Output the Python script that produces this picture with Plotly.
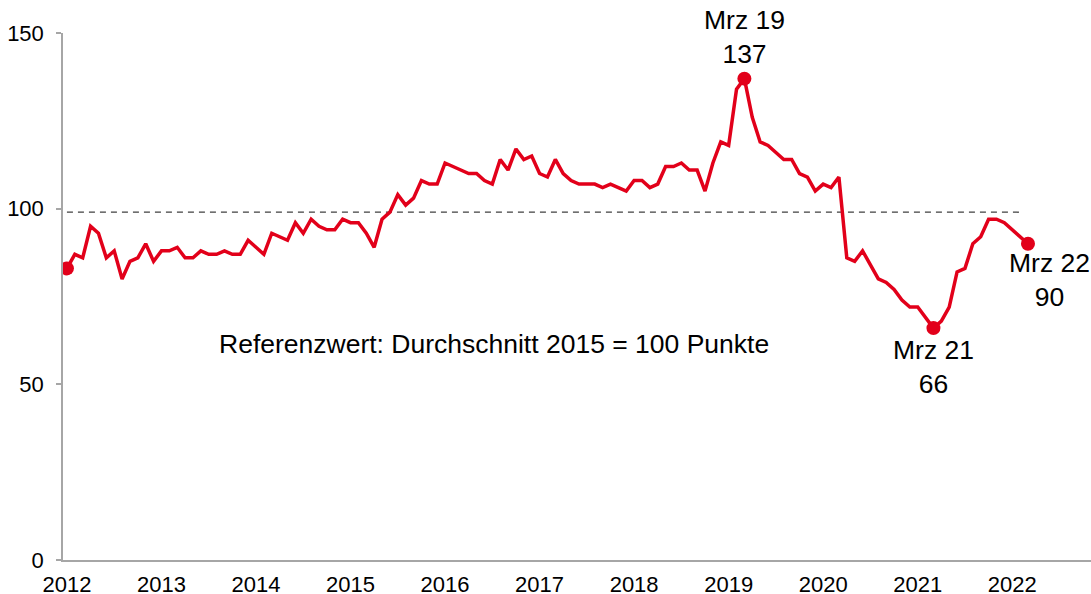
import plotly.graph_objects as go

# Monthly index values, Jan 2012 .. Mar 2022
values_2012 = [83, 87, 86, 95, 93, 86, 88, 80, 85, 86, 90, 85]
values_2013 = [88, 88, 89, 86, 86, 88, 87, 87, 88, 87, 87, 91]
values_2014 = [89, 87, 93, 92, 91, 96, 93, 97, 95, 94, 94, 97]
values_2015 = [96, 96, 93, 89, 97, 99, 104, 101, 103, 108, 107, 107]
values_2016 = [113, 112, 111, 110, 110, 108, 107, 114, 111, 117, 114, 115]
values_2017 = [110, 109, 114, 110, 108, 107, 107, 107, 106, 107, 106, 105]
values_2018 = [108, 108, 106, 107, 112, 112, 113, 111, 111, 105, 113, 119]
values_2019 = [118, 134, 137, 126, 119, 118, 116, 114, 114, 110, 109, 105]
values_2020 = [107, 106, 109, 86, 85, 88, 84, 80, 79, 77, 74, 72]
values_2021 = [72, 69, 66, 68, 72, 82, 83, 90, 92, 97, 97, 96]
values_2022 = [94, 92, 90]

values = (values_2012 + values_2013 + values_2014 + values_2015 + values_2016 +
          values_2017 + values_2018 + values_2019 + values_2020 + values_2021 + values_2022)
months = list(range(len(values)))

year_labels = ["2012", "2013", "2014", "2015", "2016", "2017", "2018", "2019", "2020", "2021", "2022"]
year_ticks = [12 * k for k in range(len(year_labels))]

reference_value = 99
reference_x = [0, 121]

# highlighted points
highlight_idx = [0, 86, 110, 122]
peak_idx, trough_idx, last_idx = 86, 110, 122
peak_label = "Mrz 19"
trough_label = "Mrz 21"
last_label = "Mrz 22"
note_text = "Referenzwert: Durchschnitt 2015 = 100 Punkte"

RED = "#E2001A"
FONT = "Liberation Sans, Arial, sans-serif"

fig = go.Figure()

fig.add_trace(go.Scatter(
    x=reference_x, y=[reference_value] * len(reference_x), mode="lines",
    line=dict(color="#404040", width=1.3, dash="6px,5px"),
    hoverinfo="skip", showlegend=False))

fig.add_trace(go.Scatter(
    x=months, y=values, mode="lines",
    line=dict(color=RED, width=3.5),
    showlegend=False))

fig.add_trace(go.Scatter(
    x=[months[i] for i in highlight_idx], y=[values[i] for i in highlight_idx],
    mode="markers", marker=dict(color=RED, size=14),
    showlegend=False))

ann_font = dict(family=FONT, size=26.5, color="#000000")
fig.add_annotation(x=peak_idx, y=values[peak_idx], xref="x", yref="y",
                   text=f"{peak_label}<br>{values[peak_idx]}", showarrow=False,
                   yanchor="bottom", yshift=8, font=ann_font)
fig.add_annotation(x=trough_idx, y=values[trough_idx], xref="x", yref="y",
                   text=f"{trough_label}<br>{values[trough_idx]}", showarrow=False,
                   yanchor="top", yshift=-5, font=ann_font)
fig.add_annotation(x=last_idx, y=values[last_idx], xref="x", yref="y",
                   text=f"{last_label}<br>{values[last_idx]}", showarrow=False,
                   yanchor="top", yshift=-2, xshift=22, font=ann_font)
fig.add_annotation(x=54.2, y=61.5, xref="x", yref="y",
                   text=note_text, showarrow=False, font=ann_font)

fig.update_layout(
    width=1091, height=594,
    margin=dict(l=63, r=0, t=33, b=34),
    paper_bgcolor="white", plot_bgcolor="white",
    font=dict(family=FONT, size=22, color="#000000"),
    showlegend=False,
)
fig.update_xaxes(
    range=[-0.5, 130], tickvals=year_ticks, ticktext=year_labels,
    showgrid=False, zeroline=False, showline=True, linecolor="#A6A6A6", linewidth=1.5,
    ticks="", ticklabelstandoff=4, automargin=False,
    tickfont=dict(family=FONT, size=22, color="#000000"))
fig.update_yaxes(
    range=[0, 150], tickvals=[0, 50, 100, 150],
    showgrid=False, zeroline=False, showline=True, linecolor="#A6A6A6", linewidth=1.5,
    ticks="outside", ticklen=5, tickcolor="#A6A6A6", tickwidth=1.5,
    ticklabelstandoff=8, automargin=False,
    tickfont=dict(family=FONT, size=22, color="#000000"))

fig.write_html(
    "out.html",
    config={"displayModeBar": False},
    post_script="document.body.style.margin='0';document.body.style.overflow='hidden';",
)
